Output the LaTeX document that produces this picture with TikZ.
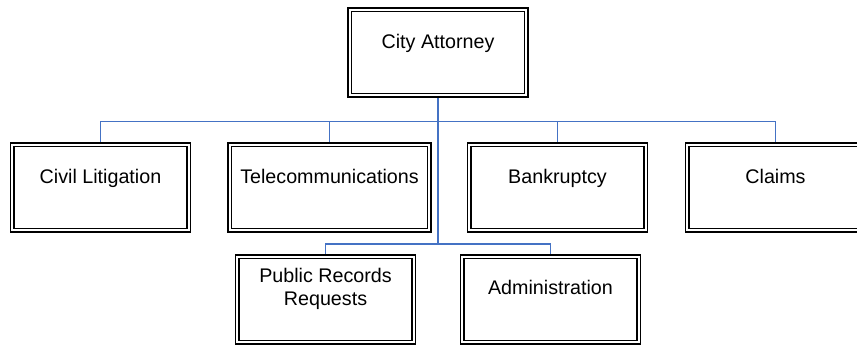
\documentclass[tikz,border=0pt]{standalone}
\usepackage{fontspec}
\setmainfont{Liberation Sans}
\usetikzlibrary{backgrounds}
\definecolor{linkblue}{RGB}{68,114,196}
\tikzset{
  orgbox/.style={draw=black, fill=white, line width=1.5bp, double=white, double distance=2.2bp,
    minimum width=176.6bp, minimum height=85.6bp, inner sep=0pt, outer sep=0pt},
  boxtext/.style={anchor=base, align=center, inner sep=0pt,
    font=\fontsize{19.7bp}{23.4bp}\selectfont},
  link/.style={draw=linkblue, line width=1.5bp}
}
\begin{document}
\begin{tikzpicture}[x=1bp,y=-1bp]
\useasboundingbox (0,0) rectangle (857,344);
\clip (0,0) rectangle (857,344);
\node[orgbox] (ca) at (438,52.5) {};
\node[orgbox] (cl) at (100.5,187.5) {};
\node[orgbox, minimum width=199.6bp] (tel) at (329.5,187.5) {};
\node[orgbox] (bk) at (557.5,187.5) {};
\node[orgbox] (cm) at (775.5,187.5) {};
\node[orgbox] (pr) at (325.5,299.5) {};
\node[orgbox] (ad) at (550.5,299.5) {};

\node[boxtext] (cat) at ([yshift=4.5bp]ca.center) {City Attorney};
\node[boxtext] (clt) at ([yshift=4.5bp]cl.center) {Civil Litigation};
\node[boxtext] (telt) at ([yshift=4.5bp]tel.center) {Telecommunications};
\node[boxtext] (bkt) at ([yshift=4.5bp]bk.center) {Bankruptcy};
\node[boxtext] (cmt) at ([yshift=4.5bp]cm.center) {Claims};
\node[boxtext] (prt) at ([yshift=-6.2bp]pr.center) {Public Records\\Requests};
\node[boxtext] (adt) at ([yshift=5.5bp]ad.center) {Administration};

\coordinate (bus1) at (438,121.5);
\coordinate (bus2) at (438,244);
\begin{scope}[on background layer]
\draw[link] (ca.south) -- (bus2);
\draw[link] (cl.north) |- (bus1) -| (cm.north);
\draw[link] (tel.north) -- (tel.north |- bus1);
\draw[link] (bk.north) -- (bk.north |- bus1);
\draw[link] (pr.north) |- (bus2) -| (ad.north);
\end{scope}
\end{tikzpicture}
\end{document}
